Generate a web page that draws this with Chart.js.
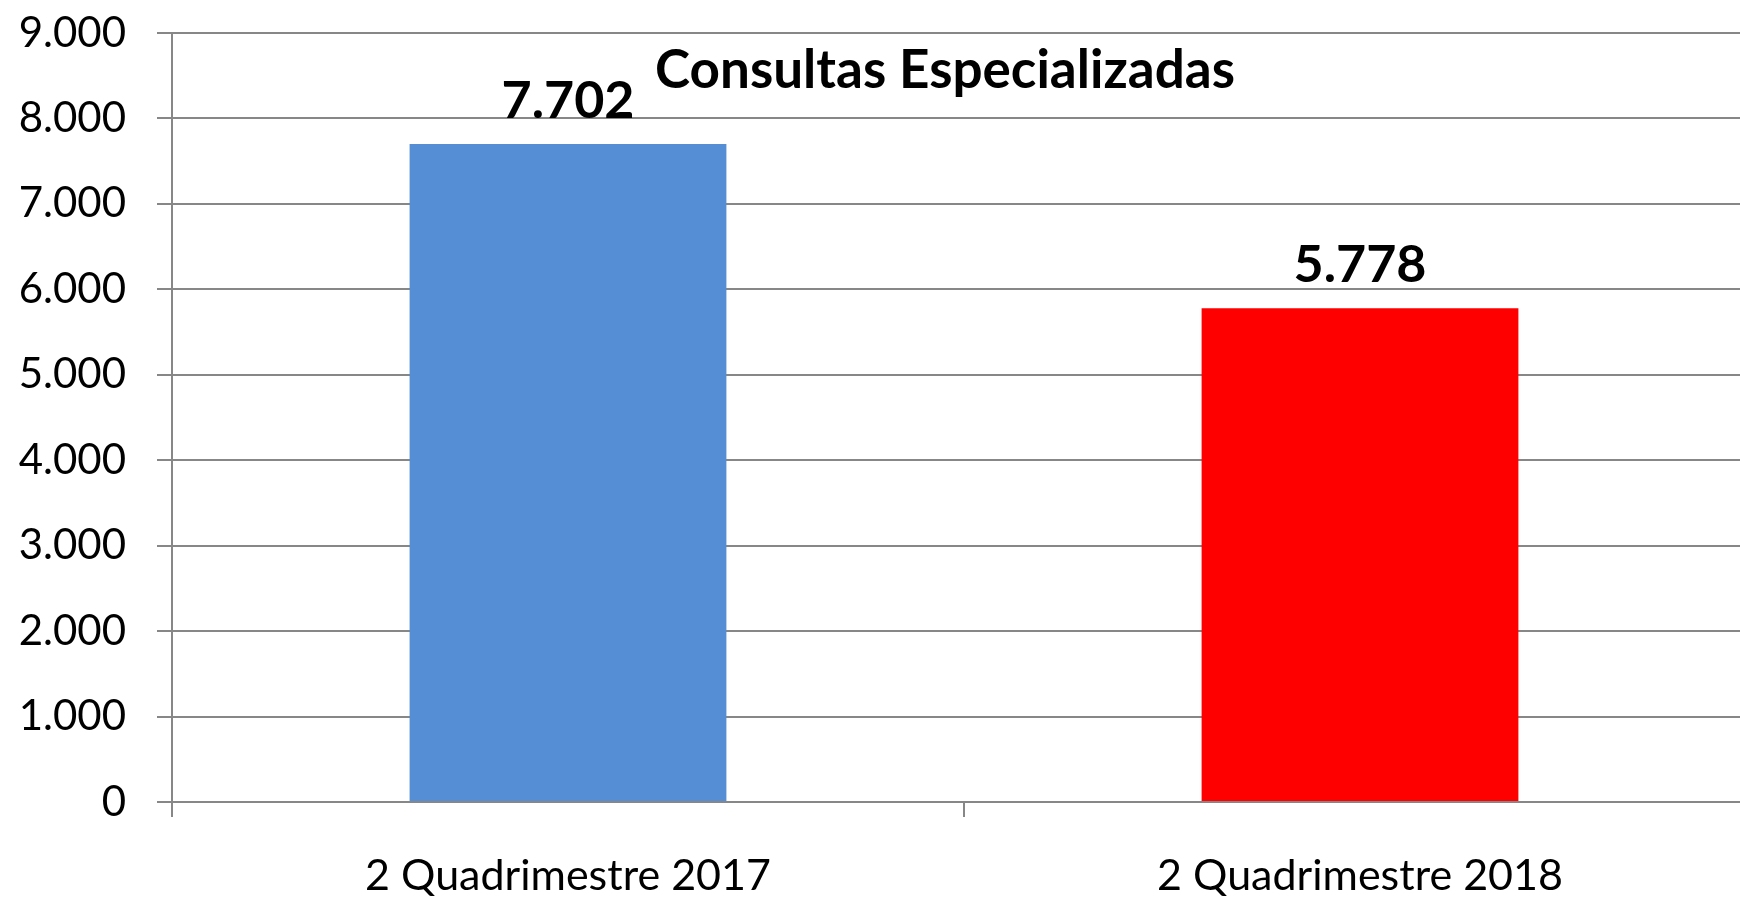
<!DOCTYPE html>
<html>
<head>
<meta charset="utf-8">
<script src="https://cdn.jsdelivr.net/npm/chart.js@4/dist/chart.umd.min.js"></script>
<style>
  html, body { margin: 0; padding: 0; background: #fff; overflow: hidden; }
  .wrapper { width: 1756px; height: 898px; }
</style>
</head>
<body>
<div class="wrapper"><canvas id="chart"></canvas></div>
<script>
// dados
const categorias = ['2 Quadrimestre 2017', '2 Quadrimestre 2018'];
const consultas = [7702, 5778];
const cores = ['#558ED5', '#FF0000'];
const titulo = 'Consultas Especializadas';

// formato 7.702
function formatar(v) {
    return String(v).replace(/\B(?=(\d{3})+(?!\d))/g, '.');
}

const FONTE = 'Lato, "Open Sans", sans-serif';

// rotulos acima das barras + titulo dentro da area do grafico
const rotulos = {
    id: 'rotulos',
    afterDatasetsDraw(chart) {
        const ctx = chart.ctx;
        ctx.save();
        ctx.fillStyle = '#000';
        ctx.textAlign = 'center';
        ctx.textBaseline = 'alphabetic';
        ctx.font = 'bold 52px ' + FONTE;
        chart.getDatasetMeta(0).data.forEach((bar, i) => {
            ctx.fillText(formatar(consultas[i]), bar.x, bar.y - 26);
        });
        ctx.font = 'bold 53px ' + FONTE;
        ctx.fillText(titulo, 945, 88);
        ctx.restore();
    }
};

const config = {
    type: 'bar',
    data: {
        labels: categorias,
        datasets: [{
            data: consultas,
            backgroundColor: cores,
            borderWidth: 0,
            barPercentage: 0.4,
            categoryPercentage: 1
        }]
    },
    options: {
        responsive: true,
        maintainAspectRatio: false,
        animation: false,
        layout: { padding: { top: 33, left: 0, right: 0, bottom: 0 } },
        plugins: {
            legend: { display: false },
            tooltip: { enabled: false },
            title: { display: false }
        },
        scales: {
            x: {
                offset: true,
                grid: {
                    offset: true,
                    drawOnChartArea: false,
                    drawTicks: true,
                    tickLength: 15,
                    color: '#878787',
                    lineWidth: 2
                },
                border: { color: '#878787', width: 2 },
                ticks: {
                    color: '#000',
                    padding: 33,
                    maxRotation: 0,
                    font: { family: FONTE, size: 43 }
                },
                afterFit(scale) {
                    scale.height = 96;
                    scale.paddingLeft = 0;
                    scale.paddingRight = 0;
                }
            },
            y: {
                min: 0,
                max: 9000,
                grid: {
                    color: '#878787',
                    lineWidth: 2,
                    tickLength: 15
                },
                border: { color: '#878787', width: 2 },
                ticks: {
                    stepSize: 1000,
                    color: '#000',
                    padding: 31,
                    font: { family: FONTE, size: 42 },
                    callback: v => formatar(v)
                },
                afterFit(scale) {
                    scale.width = 172;
                    scale.paddingTop = 0;
                    scale.paddingBottom = 0;
                }
            }
        }
    },
    plugins: [rotulos]
};

const chart = new Chart(document.querySelector('#chart'), config);
</script>
</body>
</html>
